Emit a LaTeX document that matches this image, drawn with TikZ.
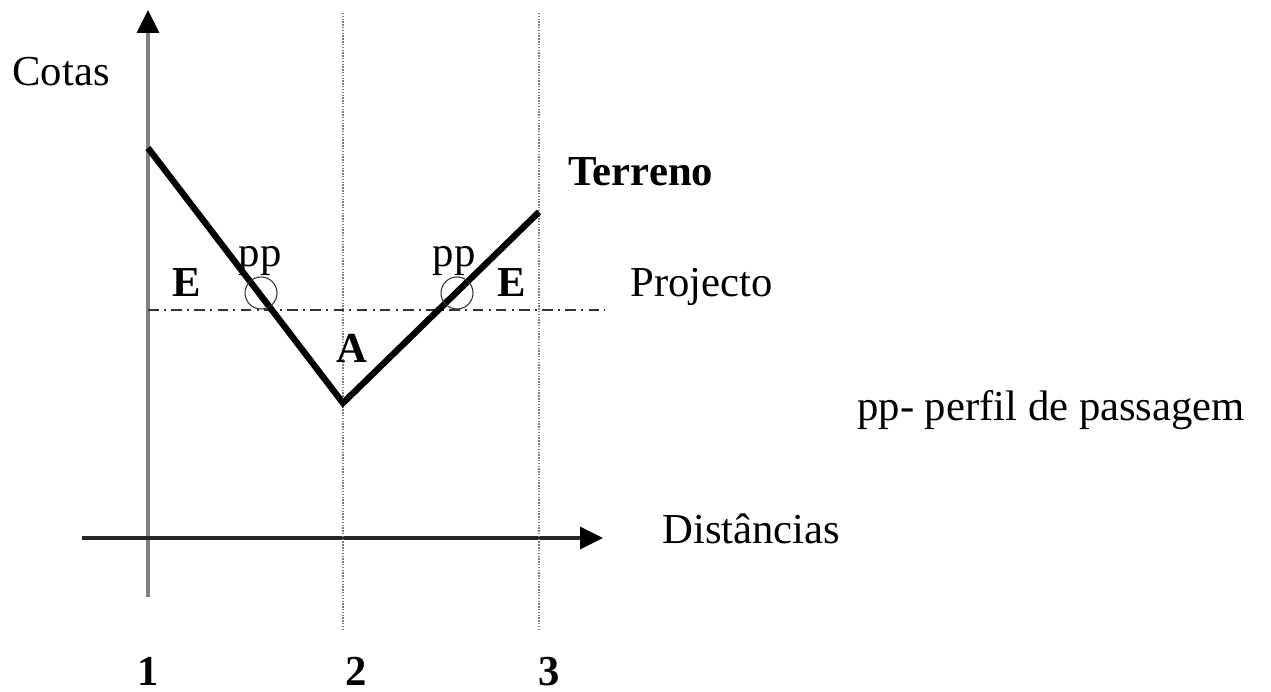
\documentclass[tikz,border=0pt]{standalone}
\usepackage{fontspec}
\setmainfont{Liberation Serif}
\usetikzlibrary{arrows.meta, positioning}

\begin{document}
\begin{tikzpicture}[
  x=0.02cm, y=-0.02cm,
  % Text styles
  lbl/.style={
    font=\fontsize{24.3}{29}\selectfont,
    inner sep=0pt, anchor=base west
  },
  boldlbl/.style={
    lbl, font=\fontsize{24.3}{29}\selectfont\bfseries, anchor=base
  },
  ppcirc/.style={
    circle, draw=black!80, line width=0.6pt,
    minimum size=0.64cm, inner sep=0pt
  },
  % Line styles
  axis/.style={line width=2pt, -{Triangle[length=0.46cm, width=0.44cm, color=black]}},
  guide/.style={gray, line width=0.6pt, dash pattern=on 0.8pt off 0.8pt},
  projline/.style={black!80, line width=0.8pt, dash pattern=on 6pt off 3pt on 1.2pt off 3pt},
  terrain/.style={line width=3.6pt, line join=miter}
]
\useasboundingbox (0,0) rectangle (1271,692);

%% ── Axes ─────────────────────────────────────────────────────
\coordinate (ybot) at (148,597);
\coordinate (ytop) at (148,10);
\coordinate (xleft) at (82,538);
\coordinate (xright) at (603,538);
\draw[axis, gray]      (ybot)  -- (ytop);
\draw[axis, black!85]  (xleft) -- (xright);

\node[lbl] (cotas) at (12,86)  {Cotas};
\node[lbl] (dist)  at (662,543) {Distâncias};

%% ── Profile guides 1, 2, 3 ──────────────────────────────────
\coordinate (g2top) at (343,13);
\coordinate (g2bot) at (343,630);
\coordinate (g3top) at (539,13);
\coordinate (g3bot) at (539,630);
\draw[guide] (g2top) -- (g2bot);
\draw[guide] (g3top) -- (g3bot);

\node[boldlbl] (n1) at (148,685) {1};
\node[boldlbl] (n2) at (356,685) {2};
\node[boldlbl] (n3) at (549,685) {3};

%% ── Project grade line ──────────────────────────────────────
\coordinate (projL) at (148,310);
\coordinate (projR) at (605,310);
\draw[projline] (projL) -- (projR);
\node[lbl] (proj) at (630,297) {Projecto};

%% ── Ground line ─────────────────────────────────────────────
\coordinate (t1) at (148,148);
\coordinate (t2) at (343,403);
\coordinate (t3) at (539,212);
\draw[terrain] (t1) -- (t2) -- (t3);
\node[lbl, font=\fontsize{24.3}{29}\selectfont\bfseries] (terreno) at (568,186) {Terreno};

%% ── Passage profiles ────────────────────────────────────────
\node[ppcirc] (ppL) at (261,293) {};
\node[ppcirc] (ppR) at (457,293) {};
\node[lbl, anchor=base] (ppLlbl) at (260,267) {pp};
\node[lbl, anchor=base] (ppRlbl) at (454,267) {pp};

%% ── Cut / fill marks ────────────────────────────────────────
\node[boldlbl] (eL) at (187,297) {E};
\node[boldlbl] (eR) at (512,297) {E};
\node[boldlbl] (aV) at (352,363) {A};

%% ── Legend ──────────────────────────────────────────────────
\node[lbl] (legend) at (857,420) {pp- perfil de passagem};

\end{tikzpicture}
\end{document}
